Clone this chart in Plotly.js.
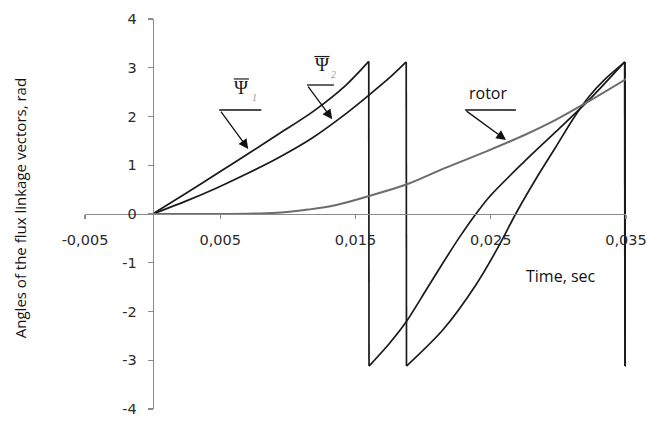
<!DOCTYPE html>
<html>
<head>
<meta charset="utf-8">
<script src="https://cdn.plot.ly/plotly-3.0.1.min.js"></script>
<style>html,body{margin:0;padding:0;background:#fff;}#chart{width:670px;height:424px;}</style>
</head>
<body>
<div id="chart"></div>
<script>
// ---- data ----
var psi1T = [0, 0.0025, 0.0050, 0.0072, 0.0094, 0.01185, 0.01432, 0.01598,
             0.01600, 0.01752, 0.01875, 0.02022, 0.02145, 0.02268, 0.02379, 0.02489, 0.02735, 0.02982, 0.03227, 0.03490,
             0.03492, 0.03540];
var psi1V = [0, 0.43, 0.87, 1.26, 1.655, 2.10, 2.65, 3.13,
             -3.12, -2.65, -2.21, -1.56, -1.01, -0.48, -0.04, 0.35, 1.04, 1.69, 2.34, 3.12,
             -3.12, -3.02];

var psi2T = [0, 0.0025, 0.0047, 0.0070, 0.0094, 0.0118, 0.0143, 0.0160, 0.0175, 0.01875,
             0.01877, 0.02145, 0.02391, 0.02563, 0.02686, 0.02858, 0.02982, 0.03104, 0.03227, 0.03351, 0.03493,
             0.03495, 0.03540];
var psi2V = [0, 0.27, 0.53, 0.83, 1.17, 1.56, 2.06, 2.44, 2.79, 3.12,
             -3.12, -2.38, -1.45, -0.64, 0.01, 0.83, 1.38, 1.93, 2.41, 2.78, 3.12,
             -3.12, -3.02];

var rotorT = [0, 0.005, 0.0075, 0.0095, 0.0115, 0.0135, 0.0160, 0.0188, 0.0215, 0.0249, 0.0275, 0.0298, 0.0323, 0.0355];
var rotorV = [0, 0, 0.01, 0.03, 0.09, 0.18, 0.37, 0.61, 0.93, 1.31, 1.62, 1.93, 2.32, 2.85];

var xTickVals = [-0.005, 0.005, 0.015, 0.025, 0.035];
var xTickText = ['-0,005', '0,005', '0,015', '0,025', '0,035'];
var yTickVals = [-4, -3, -2, -1, 0, 1, 2, 3, 4];
var yTickText = ['-4', '-3', '-2', '-1', '0', '1', '2', '3', '4'];

var seriesNames = ['Ψ1', 'Ψ2', 'rotor'];
var yTitle = 'Angles of the flux linkage vectors, rad';
var xTitle = 'Time, sec';

// ---- styles ----
var black = '#1a1a1a';
var axisGray = '#8a8a8a';
var numFont = {family: 'DejaVu Sans, Arial, sans-serif', size: 14.5, color: '#2a2a2a'};
var txtFont = {family: 'Open Sans, Calibri, sans-serif', size: 16, color: '#111'};

// split a wrapped-angle series into smooth branches + vertical jumps
function wrappedTraces(t, v, name, color, width) {
  var out = [];
  var bx = [t[0]], by = [v[0]];
  for (var i = 1; i < t.length; i++) {
    if (v[i] - v[i - 1] < -3) {
      out.push({x: bx, y: by, name: name, mode: 'lines', line: {color: color, width: width, shape: 'spline', smoothing: 0.8}});
      out.push({x: [t[i - 1], t[i]], y: [v[i - 1], v[i]], name: name, mode: 'lines', line: {color: color, width: width}});
      bx = [t[i]]; by = [v[i]];
    } else {
      bx.push(t[i]); by.push(v[i]);
    }
  }
  out.push({x: bx, y: by, name: name, mode: 'lines', line: {color: color, width: width, shape: 'spline', smoothing: 0.8}});
  return out;
}

var traces = []
  .concat(wrappedTraces(psi1T, psi1V, seriesNames[0], black, 1.7))
  .concat(wrappedTraces(psi2T, psi2V, seriesNames[1], black, 1.7))
  .concat([{x: rotorT, y: rotorV, name: seriesNames[2], mode: 'lines', line: {color: '#6c6c6c', width: 2, shape: 'spline', smoothing: 1}}]);

function hline(x0, x1, y, color, w) {
  return {type: 'line', xref: 'x', yref: 'y', x0: x0, x1: x1, y0: y, y1: y, line: {color: color, width: w}};
}
function arrow(xh, yh, xt, yt) {
  return {x: xh, y: yh, ax: xt, ay: yt, xref: 'x', yref: 'y', axref: 'x', ayref: 'y',
          showarrow: true, arrowhead: 2, arrowsize: 1.5, arrowwidth: 1.3, arrowcolor: '#111', standoff: 0, text: ''};
}
var psiFont = {family: 'Liberation Serif, DejaVu Serif, serif', size: 19, color: '#1a1a1a'};
var subFont = {family: 'Liberation Serif, serif', size: 10, color: '#9a9a9a'};

var annotations = [
  // Psi1 label
  {x: 0.00657, y: 2.60, xref: 'x', yref: 'y', text: 'Ψ', showarrow: false, font: psiFont},
  {x: 0.0075, y: 2.38, xref: 'x', yref: 'y', text: '<i>1</i>', showarrow: false, font: subFont},
  arrow(0.00707, 1.333, 0.00497, 2.133),
  // Psi2 label
  {x: 0.01253, y: 3.07, xref: 'x', yref: 'y', text: 'Ψ', showarrow: false, font: psiFont},
  {x: 0.0134, y: 2.86, xref: 'x', yref: 'y', text: '<i>2</i>', showarrow: false, font: subFont},
  arrow(0.01328, 1.943, 0.01142, 2.646),
  // rotor label
  {x: 0.0248, y: 2.48, xref: 'x', yref: 'y', text: seriesNames[2], showarrow: false, font: txtFont},
  arrow(0.02613, 1.518, 0.0231, 2.133),
  // axis titles
  {x: 0.0302, y: -1.27, xref: 'x', yref: 'y', text: xTitle, showarrow: false, font: txtFont},
  {x: -0.120, y: 0.515, xref: 'paper', yref: 'paper', xanchor: 'center', yanchor: 'middle',
   text: yTitle, textangle: -90, showarrow: false,
   font: {family: 'Open Sans, Calibri, sans-serif', size: 15, color: '#111'}}
];

var shapes = [
  hline(0.00600, 0.00712, 2.77, '#1a1a1a', 1.2),
  hline(0.00492, 0.00804, 2.133, '#111', 1.3),
  hline(0.01196, 0.01308, 3.23, '#1a1a1a', 1.2),
  hline(0.01141, 0.01340, 2.646, '#111', 1.3),
  hline(0.0231, 0.02686, 2.133, '#111', 1.3)
];

var layout = {
  width: 670, height: 424,
  margin: {l: 85, r: 44, t: 19, b: 15, pad: 0},
  paper_bgcolor: '#fff', plot_bgcolor: '#fff',
  showlegend: false,
  xaxis: {
    range: [-0.005, 0.035], domain: [0, 1], anchor: 'free', position: 0.5,
    showgrid: false, zeroline: false, showline: true, linecolor: axisGray, linewidth: 1.3,
    tickmode: 'array', tickvals: xTickVals, ticktext: xTickText,
    ticks: 'outside', ticklen: 4, tickcolor: axisGray, tickwidth: 1.3,
    tickfont: numFont, ticklabelstandoff: 8
  },
  yaxis: {
    range: [-4, 4], domain: [0, 1], anchor: 'free', position: 0.125,
    showgrid: false, zeroline: false, showline: true, linecolor: axisGray, linewidth: 1.3,
    tickmode: 'array', tickvals: yTickVals, ticktext: yTickText,
    ticks: 'outside', ticklen: 5, tickcolor: axisGray, tickwidth: 1.3,
    tickfont: numFont, ticklabelstandoff: 8
  },
  annotations: annotations,
  shapes: shapes
};

Plotly.newPlot('chart', traces, layout, {staticPlot: true, displayModeBar: false});
</script>
</body>
</html>
